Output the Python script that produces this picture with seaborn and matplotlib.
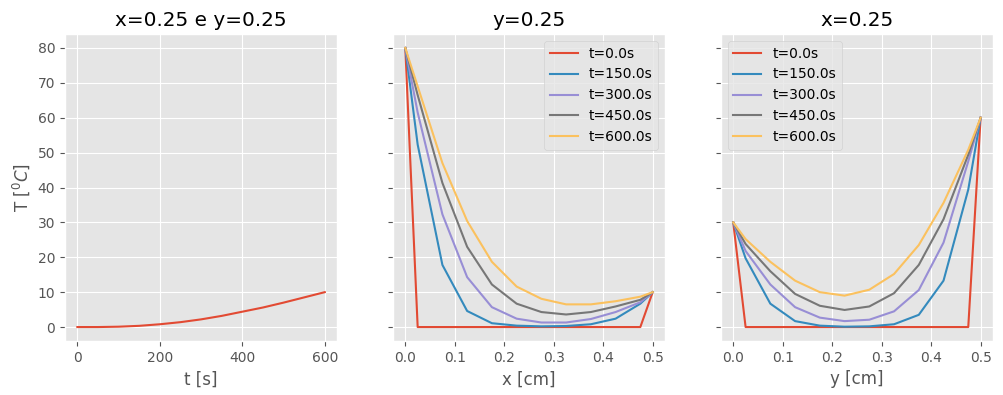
import matplotlib
matplotlib.use("Agg")
import matplotlib.pyplot as plt
import seaborn as sns
import pandas as pd

plt.style.use("ggplot")

# time series at x=0.25, y=0.25
t_vals = [0, 50, 100, 150, 200, 250, 300, 350, 400, 450, 500, 550, 600]
T_center = [0.0, 0.0, 0.1, 0.35, 0.8, 1.4, 2.2, 3.2, 4.4, 5.6, 7.0, 8.5, 10.0]

# spatial grid
pos = [0, 0.025, 0.075, 0.125, 0.175, 0.225, 0.275, 0.325, 0.375, 0.425, 0.475, 0.5]
times = ["t=0.0s", "t=150.0s", "t=300.0s", "t=450.0s", "t=600.0s"]

# profiles along x at y=0.25
Tx_0 = [80, 0, 0, 0, 0, 0, 0, 0, 0, 0, 0, 10]
Tx_150 = [80, 52.3, 17.8, 4.6, 1.1, 0.4, 0.2, 0.3, 0.8, 2.4, 6.7, 10]
Tx_300 = [80, 61.5, 32.3, 14.3, 5.7, 2.4, 1.3, 1.3, 2.3, 4.3, 7.1, 10]
Tx_450 = [80, 66.5, 41.3, 23.0, 12.2, 6.7, 4.3, 3.6, 4.3, 5.9, 7.8, 10]
Tx_600 = [80, 69.0, 47.0, 30.4, 18.7, 11.6, 8.1, 6.5, 6.5, 7.4, 8.7, 10]

# profiles along y at x=0.25
Ty_0 = [30, 0, 0, 0, 0, 0, 0, 0, 0, 0, 0, 60]
Ty_150 = [30, 19.7, 6.7, 1.7, 0.4, 0.1, 0.2, 0.8, 3.5, 13.3, 39.4, 60]
Ty_300 = [30, 21.8, 12.2, 5.7, 2.7, 1.7, 2.1, 4.5, 10.6, 24.2, 47.5, 60]
Ty_450 = [30, 23.8, 16.0, 9.5, 6.1, 4.9, 5.9, 9.7, 17.8, 30.9, 49.4, 60]
Ty_600 = [30, 25.2, 18.7, 13.3, 10.0, 9.0, 10.7, 15.2, 23.5, 35.6, 50.8, 60]

colors = ["#E24A33", "#348ABD", "#988ED5", "#777777", "#FBC15E"]

fig, axes = plt.subplots(1, 3, figsize=(10.04, 3.95), dpi=100, sharey=True)
fig.subplots_adjust(left=65/1004, right=993/1004, bottom=1-341/395, top=1-34/395, wspace=0.205)

ax = axes[0]
sns.lineplot(x=t_vals, y=T_center, ax=ax, color=colors[0])
ax.set_title("x=0.25 e y=0.25")
ax.set_xlabel("t [s]")
ax.set_ylabel(r"T [$^0C$]")

def profile(ax, series, xlabel, title, loc):
    rows = []
    for name, vals in zip(times, series):
        for p, v in zip(pos, vals):
            rows.append({"pos": p, "T": v, "t": name})
    df = pd.DataFrame(rows)
    sns.lineplot(data=df, x="pos", y="T", hue="t", palette=colors, ax=ax, sort=False)
    ax.set_title(title)
    ax.set_xlabel(xlabel)
    ax.set_ylabel("")
    ax.legend(loc=loc, title=None)

profile(axes[1], [Tx_0, Tx_150, Tx_300, Tx_450, Tx_600], "x [cm]", "y=0.25", "upper right")
profile(axes[2], [Ty_0, Ty_150, Ty_300, Ty_450, Ty_600], "y [cm]", "x=0.25", "upper left")

axes[0].set_yticks([0, 10, 20, 30, 40, 50, 60, 70, 80])
for a in axes[1:]:
    a.set_xticks([0.0, 0.1, 0.2, 0.3, 0.4, 0.5])
    a.tick_params(labelleft=False)

fig.savefig("out.png", dpi=100)
